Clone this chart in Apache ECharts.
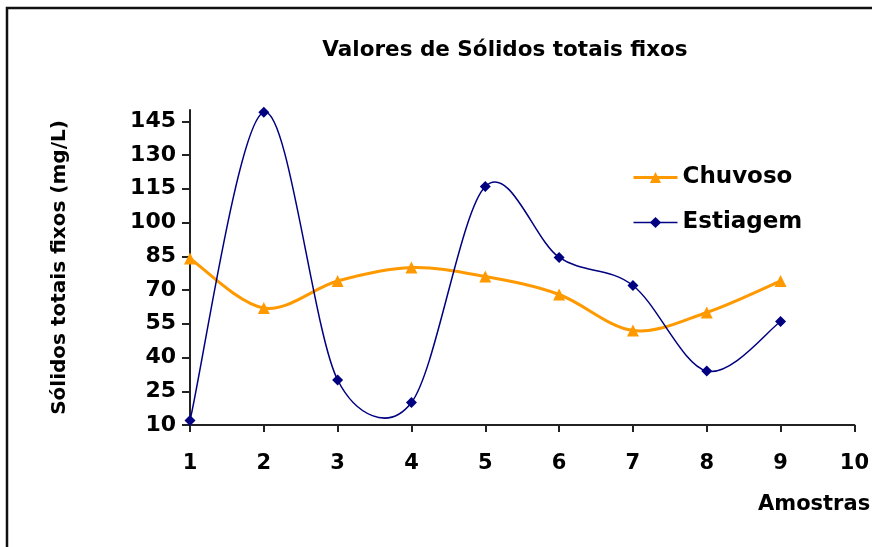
<!DOCTYPE html>
<html>
<head>
<meta charset="utf-8">
<script src="https://cdn.jsdelivr.net/npm/echarts@6/dist/echarts.min.js"></script>
<style>
  html, body { margin: 0; padding: 0; background: #fff; }
  #chart { width: 872px; height: 547px; }
</style>
</head>
<body>
<div id="chart"></div>
<script>
// Sample numbers (Amostras) and total fixed solids per season, in mg/L
const amostras = [1, 2, 3, 4, 5, 6, 7, 8, 9];
const chuvoso = [84, 62, 74, 80, 76, 68, 52, 60, 74];
const estiagem = [12, 149, 30, 20, 116, 84.5, 72, 34, 56];
const yTicks = [10, 25, 40, 55, 70, 85, 100, 115, 130, 145];
const xTicks = [1, 2, 3, 4, 5, 6, 7, 8, 9, 10];

const FONT = '"DejaVu Sans", "Liberation Sans", Arial, sans-serif';
const ORANGE = '#FF9900';
const NAVY = '#000080';

const pairs = (ys) => amostras.map((x, i) => [x, ys[i]]);

// Spreadsheet-style smoothed curve: one cubic Bezier per segment, control
// points at 1/6 of the neighbour chord, limited to half the segment length.
function smoothCurve(ys, color, width) {
  const n = amostras.length;
  return function (params, api) {
    const i = params.dataIndex;
    if (i >= n - 1) return null;
    const at = (k) => {
      const j = Math.max(0, Math.min(n - 1, k));
      return api.coord([amostras[j], ys[j]]);
    };
    const p0 = at(i - 1), p1 = at(i), p2 = at(i + 1), p3 = at(i + 2);
    const dist = (a, b) => Math.hypot(b[0] - a[0], b[1] - a[1]);
    const d12 = dist(p1, p2), d02 = dist(p0, p2), d13 = dist(p1, p3);
    const f = (d02 / 6 < d12 / 2) ? 1 / 6 : d12 / (2 * d02);
    const g = (d13 / 6 < d12 / 2) ? 1 / 6 : d12 / (2 * d13);
    return {
      type: 'bezierCurve',
      shape: {
        x1: p1[0], y1: p1[1],
        x2: p2[0], y2: p2[1],
        cpx1: p1[0] + (p2[0] - p0[0]) * f,
        cpy1: p1[1] + (p2[1] - p0[1]) * f,
        cpx2: p2[0] - (p3[0] - p1[0]) * g,
        cpy2: p2[1] - (p3[1] - p1[1]) * g
      },
      style: { stroke: color, lineWidth: width, fill: null },
      silent: true
    };
  };
}

const chart = echarts.init(document.getElementById('chart'), null, { renderer: 'canvas' });

chart.setOption({
  backgroundColor: '#ffffff',
  animation: false,
  graphic: [
    {
      type: 'rect',
      shape: { x: 7, y: 8, width: 920, height: 600 },
      style: { fill: 'none', stroke: '#111', lineWidth: 2.5 },
      silent: true
    },
    {
      type: 'text',
      x: 505,
      y: 50,
      style: {
        text: 'Valores de Sólidos totais fixos',
        font: 'bold 21.5px ' + FONT,
        fill: '#000',
        align: 'center',
        verticalAlign: 'middle'
      }
    },
    {
      type: 'text',
      x: 758,
      y: 505,
      style: {
        text: 'Amostras',
        font: 'bold 21px ' + FONT,
        fill: '#000',
        align: 'left',
        verticalAlign: 'middle'
      }
    }
  ],
  grid: { left: 190, right: 15, top: 110, bottom: 122, containLabel: false },
  legend: {
    orient: 'vertical',
    left: 627,
    top: 161,
    itemWidth: 44,
    itemHeight: 14,
    itemGap: 22,
    textStyle: { fontFamily: FONT, fontWeight: 'bold', fontSize: 23, color: '#000' },
    data: [
      { name: 'Chuvoso', lineStyle: { color: ORANGE, width: 3, opacity: 1 } },
      { name: 'Estiagem', lineStyle: { color: NAVY, width: 1.5, opacity: 1 } }
    ]
  },
  xAxis: {
    type: 'value',
    min: 1,
    max: 10,
    interval: 1,
    axisLine: { show: true, lineStyle: { color: '#222', width: 2 } },
    axisTick: { show: true, length: 7, lineStyle: { color: '#222', width: 2 }, customValues: xTicks },
    axisLabel: {
      customValues: xTicks,
      margin: 28,
      fontFamily: FONT, fontWeight: 'bold', fontSize: 21, color: '#000'
    },
    splitLine: { show: false }
  },
  yAxis: {
    type: 'value',
    min: 10,
    max: 150,
    interval: 15,
    name: 'Sólidos totais fixos (mg/L)',
    nameLocation: 'middle',
    nameGap: 120,
    nameTextStyle: { fontFamily: FONT, fontWeight: 'bold', fontSize: 20, color: '#000' },
    axisLine: { show: true, lineStyle: { color: '#222', width: 2 } },
    axisTick: { show: true, length: 8, lineStyle: { color: '#222', width: 2 }, customValues: yTicks },
    axisLabel: {
      customValues: yTicks,
      margin: 14,
      fontFamily: FONT, fontWeight: 'bold', fontSize: 22, color: '#000'
    },
    splitLine: { show: false }
  },
  series: [
    {
      name: 'Chuvoso',
      type: 'line',
      data: pairs(chuvoso),
      symbol: 'triangle',
      symbolSize: 12,
      lineStyle: { color: ORANGE, width: 3, opacity: 0 },
      itemStyle: { color: ORANGE },
      z: 4
    },
    {
      name: 'Estiagem',
      type: 'line',
      data: pairs(estiagem),
      symbol: 'diamond',
      symbolSize: 11,
      lineStyle: { color: NAVY, width: 1.5, opacity: 0 },
      itemStyle: { color: NAVY },
      z: 5
    },
    {
      id: 'curve-chuvoso',
      type: 'custom',
      coordinateSystem: 'cartesian2d',
      data: pairs(chuvoso),
      encode: { x: 0, y: 1 },
      renderItem: smoothCurve(chuvoso, ORANGE, 3),
      z: 2
    },
    {
      id: 'curve-estiagem',
      type: 'custom',
      coordinateSystem: 'cartesian2d',
      data: pairs(estiagem),
      encode: { x: 0, y: 1 },
      renderItem: smoothCurve(estiagem, NAVY, 1.5),
      z: 3
    }
  ]
});
</script>
</body>
</html>
